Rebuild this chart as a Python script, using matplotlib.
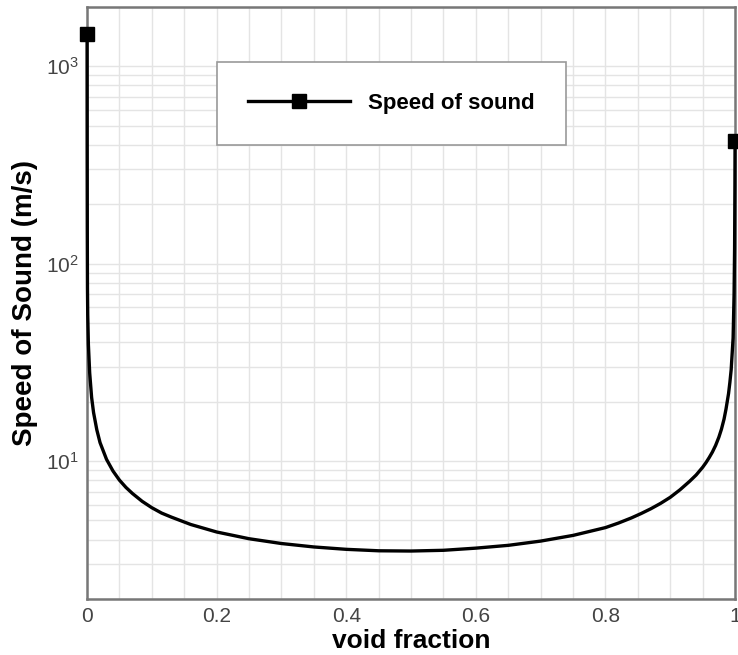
import matplotlib
matplotlib.use("Agg")
import matplotlib.pyplot as plt
from matplotlib.ticker import MultipleLocator, LogLocator, FormatStrFormatter

plt.rcParams["font.family"] = ["Liberation Sans", "DejaVu Sans"]
plt.rcParams["mathtext.default"] = "regular"

# valores
void_fraction = [0.0, 0.00002, 0.0001, 0.0003, 0.0006, 0.001, 0.002, 0.004,
                 0.007, 0.01, 0.015, 0.02, 0.03, 0.04, 0.05, 0.06, 0.07,
                 0.085, 0.10, 0.115, 0.13, 0.16, 0.20, 0.25, 0.30, 0.35,
                 0.40, 0.45, 0.50, 0.55, 0.60, 0.65, 0.70, 0.75, 0.80, 0.82,
                 0.84, 0.855, 0.87, 0.885, 0.90, 0.915, 0.93, 0.94, 0.95,
                 0.955, 0.96, 0.965, 0.97, 0.975, 0.979, 0.983, 0.986, 0.99,
                 0.992, 0.994, 0.997, 0.9985, 0.9993, 0.9998, 1.0]
speed = [1450, 1000, 400, 150, 75, 55, 39, 28,
         21, 17.6, 14.4, 12.4, 10.2, 8.9, 8.0, 7.35, 6.85,
         6.25, 5.8, 5.45, 5.2, 4.77, 4.37, 4.04, 3.82, 3.67,
         3.57, 3.51, 3.50, 3.53, 3.62, 3.74, 3.93, 4.2, 4.6, 4.85,
         5.15, 5.42, 5.73, 6.1, 6.55, 7.15, 7.9, 8.5, 9.3,
         9.8, 10.4, 11.1, 12.0, 13.2, 14.5, 16.3, 18.3, 22,
         25, 29, 42, 70, 120, 250, 420]
label = "Speed of sound"

fig = plt.figure(figsize=(7.38, 6.55), dpi=100)
ax = fig.add_axes([0.118, 0.0855, 0.878, 0.904])

ax.plot(void_fraction, speed, "-", color="black", lw=2.4, marker="s",
        markersize=10, markevery=[0, len(speed) - 1], clip_on=False,
        zorder=3, label=label)

ax.set_yscale("log")
ax.set_xlim(0, 1)
ax.set_ylim(2, 2000)
ax.xaxis.set_major_locator(MultipleLocator(0.2))
ax.xaxis.set_minor_locator(MultipleLocator(0.05))
ax.xaxis.set_major_formatter(FormatStrFormatter("%g"))
ax.yaxis.set_major_locator(LogLocator(base=10, numticks=10))
ax.yaxis.set_minor_locator(LogLocator(base=10, subs=range(2, 10), numticks=10))
ax.yaxis.set_minor_formatter(plt.NullFormatter())
ax.grid(True, which="both", color="#e4e4e4", lw=1.0)
ax.set_axisbelow(True)
ax.tick_params(which="both", length=0, labelsize=15, labelcolor="#444444", pad=6)
for s in ax.spines.values():
    s.set_color("#777777")
    s.set_linewidth(1.8)

ax.set_xlabel("void fraction", fontsize=19, fontweight="bold", labelpad=2)
ax.set_ylabel("Speed of Sound (m/s)", fontsize=20, fontweight="bold", labelpad=6)

leg = ax.legend(loc="upper left", bbox_to_anchor=(0.2, 0.907),
                prop={"weight": "bold", "size": 16}, fancybox=False,
                edgecolor="#999999", framealpha=1, borderpad=1.4,
                handlelength=4.6, handletextpad=0.8, borderaxespad=0)
leg.get_frame().set_linewidth(1.2)

fig.savefig("out.png", dpi=100)
